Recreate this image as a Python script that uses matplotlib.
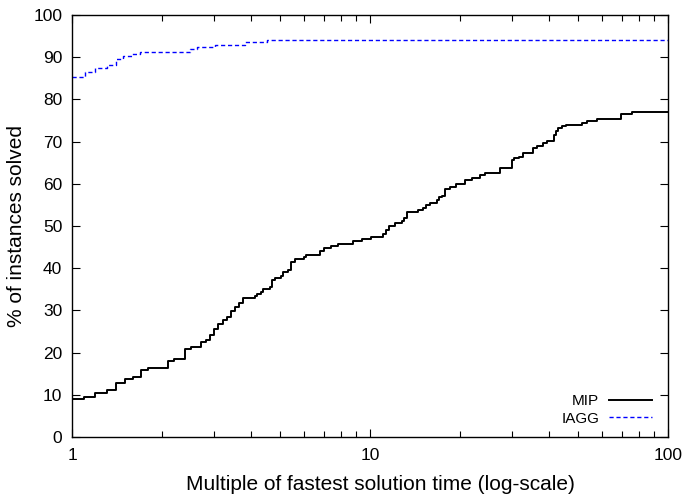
import matplotlib
matplotlib.use("Agg")
import matplotlib.pyplot as plt
from matplotlib.ticker import LogLocator, FixedLocator, NullFormatter, FuncFormatter

plt.rcParams['font.family'] = ['Liberation Sans', 'DejaVu Sans']

# MIP performance profile (step function, steps-post)
mip_x = [1.0, 1.100, 1.195, 1.307, 1.405, 1.506, 1.602, 1.704, 1.799, 2.100, 2.199,
         2.394, 2.508, 2.709, 2.810, 2.905, 2.996, 3.090, 3.204, 3.304, 3.416, 3.524,
         3.634, 3.748, 4.113, 4.177, 4.298, 4.375, 4.617, 4.690, 4.800, 5.016, 5.093,
         5.295, 5.419, 5.601, 6.003, 6.097, 6.796, 7.009, 7.381, 7.792, 8.790, 9.378,
         10.05, 11.08, 11.31, 11.61, 12.13, 12.78, 13.01, 13.34, 14.53, 15.03, 15.38,
         15.90, 16.74, 17.04, 17.40, 17.85, 18.56, 19.39, 20.84, 21.95, 23.39, 24.32,
         27.31, 29.89, 30.42, 31.62, 32.69, 35.16, 36.43, 37.97, 39.17, 41.44, 42.10,
         42.85, 43.99, 45.48, 51.33, 53.35, 57.63, 69.39, 75.54, 100.0]
mip_y = [8.9, 9.4, 10.4, 11.1, 12.7, 13.7, 14.3, 15.9, 16.4, 18.0, 18.6,
         20.8, 21.3, 22.4, 22.9, 24.1, 25.6, 26.7, 27.7, 28.5, 29.9, 30.7,
         31.8, 32.9, 33.4, 34.0, 34.4, 35.0, 35.6, 37.2, 37.7, 38.2, 39.2,
         39.6, 41.4, 42.1, 42.7, 43.1, 44.1, 44.7, 45.3, 45.8, 46.4, 46.9,
         47.4, 48.1, 49.1, 50.1, 50.6, 51.3, 52.0, 53.4, 53.8, 54.3, 55.0,
         55.5, 56.2, 56.9, 57.2, 58.7, 59.3, 59.9, 60.8, 61.4, 62.1, 62.6,
         63.7, 65.6, 66.2, 66.4, 67.4, 68.4, 69.0, 69.7, 70.1, 71.6, 72.6,
         73.2, 73.7, 73.9, 74.3, 74.9, 75.3, 76.5, 77.1, 77.1]

# IAGG performance profile
iagg_x = [1.0, 1.105, 1.195, 1.31, 1.405, 1.483, 1.59, 1.69, 2.49, 2.63, 3.02, 3.81, 4.51, 100.0]
iagg_y = [85.3, 86.5, 87.4, 88.1, 89.6, 90.3, 90.8, 91.3, 91.9, 92.4, 92.9, 93.5, 94.1, 94.1]

x_ticks = [1, 10, 100]
y_ticks = [0, 10, 20, 30, 40, 50, 60, 70, 80, 90, 100]

fig = plt.figure(figsize=(6.84, 4.98), dpi=100)
ax = fig.add_axes([0.1053, 0.1225, 0.8713, 0.8474])

ax.plot(mip_x, mip_y, drawstyle='steps-post', color='black', lw=1.4, label='MIP')
ax.plot(iagg_x, iagg_y, drawstyle='steps-post', color='#0000ff', lw=1.0,
        dashes=(3, 2), label='IAGG')

ax.set_xscale('log')
ax.set_xlim(1, 100)
ax.set_ylim(0, 100)
ax.xaxis.set_major_locator(FixedLocator(x_ticks))
ax.xaxis.set_major_formatter(FuncFormatter(lambda v, p: f"{int(round(v))}"))
ax.xaxis.set_minor_locator(LogLocator(base=10, subs=range(2, 10)))
ax.xaxis.set_minor_formatter(NullFormatter())
ax.set_yticks(y_ticks)

ax.tick_params(which='both', direction='in', top=True, right=True, labelsize=12.5)
ax.tick_params(axis='y', pad=7)
ax.tick_params(axis='x', pad=8)
ax.tick_params(which='major', length=6, width=0.8)
ax.tick_params(which='minor', length=4, width=0.8)
for s in ax.spines.values():
    s.set_linewidth(1.0)

ax.set_xlabel('Multiple of fastest solution time (log-scale)', fontsize=15)
ax.xaxis.set_label_coords(0.5 + 10 / 596, -0.09, transform=ax.transAxes)
ax.xaxis.label.set_va('top')
ax.set_ylabel('% of instances solved', fontsize=15, labelpad=5)

leg = ax.legend(loc='lower right', frameon=False, markerfirst=False, fontsize=11,
                handlelength=2.8, handletextpad=0.65, labelspacing=0.22,
                borderpad=0, borderaxespad=0,
                bbox_to_anchor=(0.973, 0.027))

fig.savefig('out.png', dpi=100)
